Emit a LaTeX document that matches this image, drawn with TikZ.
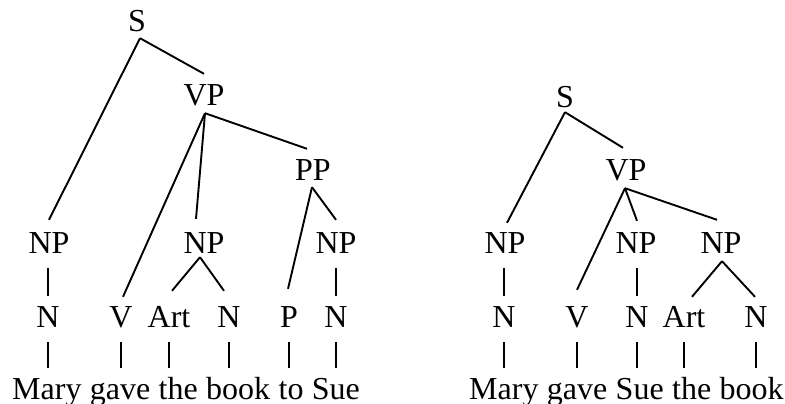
\documentclass[tikz,border=0pt]{standalone}
\usepackage{fontspec}
\setmainfont{Liberation Serif}
\begin{document}
\begin{tikzpicture}[x=1pt,y=-1pt,
  lbl/.style={font=\fontsize{32}{38}\selectfont, inner sep=0pt, anchor=base, text height=21pt, text depth=0pt},
  wrd/.style={lbl, anchor=base west},
  branch/.style={line width=1.9pt},
  bar/.style={line width=1.2pt}]
\useasboundingbox (0,0) rectangle (785,404);
% ---------- left tree ----------
\node[lbl] (S1) at (137,32) {S};
\node[lbl] (VP1) at (204,106) {VP};
\node[lbl] (PP1) at (313,180) {PP};
\node[lbl] (NPa) at (49,253) {NP};
\node[lbl] (NPb) at (204,253) {NP};
\node[lbl] (NPc) at (336,253) {NP};
\node[lbl] (Na) at (48,327) {N};
\node[lbl] (V1) at (121,327) {V};
\node[lbl] (Art1) at (169,327) {Art};
\node[lbl] (Nb) at (229,327) {N};
\node[lbl] (P1) at (289,327) {P};
\node[lbl] (Nc) at (336,327) {N};
\node[wrd] (w1) at (12,399) {Mary};
\node[wrd] (w2) at ([xshift=8pt]w1.base east) {gave};
\node[wrd] (w3) at ([xshift=8pt]w2.base east) {the};
\node[wrd] (w4) at ([xshift=8pt]w3.base east) {book};
\node[wrd] (w5) at ([xshift=8pt]w4.base east) {to};
\node[wrd] (w6) at ([xshift=8pt]w5.base east) {Sue};
\draw[branch] ([xshift=3pt,yshift=-6pt]S1.south) -- ([yshift=12pt]NPa.north);
\draw[branch] ([xshift=3pt,yshift=-6pt]S1.south) -- ([yshift=11pt]VP1.north);
\draw[branch] ([xshift=1pt,yshift=-7pt]VP1.south) -- ([xshift=2pt,yshift=9pt]V1.north);
\draw[branch] ([xshift=1pt,yshift=-7pt]VP1.south) -- ([xshift=-8pt,yshift=13pt]NPb.north);
\draw[branch] ([xshift=1pt,yshift=-7pt]VP1.south) -- ([xshift=-6pt,yshift=10pt]PP1.north);
\draw[branch] ([xshift=-1pt,yshift=-7pt]PP1.south) -- ([xshift=-1pt,yshift=17pt]P1.north);
\draw[branch] ([xshift=-1pt,yshift=-7pt]PP1.south) -- ([yshift=12pt]NPc.north);
\draw[branch] ([xshift=-4pt,yshift=-4pt]NPb.south) -- ([xshift=3pt,yshift=15pt]Art1.north);
\draw[branch] ([xshift=-4pt,yshift=-4pt]NPb.south) -- ([xshift=-5pt,yshift=15pt]Nb.north);
\foreach \a/\b in {NPa/Na, NPc/Nc}
  \draw[bar] ([yshift=-15pt]\a.south -| \b.south) -- ([yshift=10pt]\b.north);
\foreach \a/\b in {Na/w1, V1/w2, Art1/w3, Nb/w4, P1/w5, Nc/w6}
  \draw[bar] ([yshift=-15pt]\a.south) -- ([yshift=10pt]\a.south |- \b.north);
% ---------- right tree ----------
\node[lbl] (S2) at (565,107) {S};
\node[lbl] (VP2) at (626,180) {VP};
\node[lbl] (NPl) at (505,253) {NP};
\node[lbl] (NPm) at (636,253) {NP};
\node[lbl] (NPr) at (721,253) {NP};
\node[lbl] (N2a) at (504,327) {N};
\node[lbl] (V2) at (577,327) {V};
\node[lbl] (N2b) at (637,327) {N};
\node[lbl] (Art2) at (684,327) {Art};
\node[lbl] (N2c) at (756,327) {N};
\node[wrd] (u1) at (469,399) {Mary};
\node[wrd] (u2) at ([xshift=8pt]u1.base east) {gave};
\node[wrd] (u3) at ([xshift=8pt]u2.base east) {Sue};
\node[wrd] (u4) at ([xshift=8pt]u3.base east) {the};
\node[wrd] (u5) at ([xshift=8pt]u4.base east) {book};
\draw[branch] ([yshift=-5pt]S2.south) -- ([xshift=2pt,yshift=9pt]NPl.north);
\draw[branch] ([yshift=-5pt]S2.south) -- ([xshift=-3pt,yshift=11pt]VP2.north);
\draw[branch] ([xshift=-1pt,yshift=-8pt]VP2.south) -- ([yshift=16pt]V2.north);
\draw[branch] ([xshift=-1pt,yshift=-8pt]VP2.south) -- ([xshift=1pt,yshift=11pt]NPm.north);
\draw[branch] ([xshift=-1pt,yshift=-8pt]VP2.south) -- ([xshift=-4pt,yshift=12pt]NPr.north);
\draw[branch] ([xshift=1pt,yshift=-8pt]NPr.south) -- ([xshift=8pt,yshift=9pt]Art2.north);
\draw[branch] ([xshift=1pt,yshift=-8pt]NPr.south) -- ([xshift=-1pt,yshift=9pt]N2c.north);
\foreach \a/\b in {NPl/N2a, NPm/N2b}
  \draw[bar] ([yshift=-15pt]\a.south -| \b.south) -- ([yshift=10pt]\b.north);
\foreach \a/\b in {N2a/u1, V2/u2, N2b/u3, Art2/u4, N2c/u5}
  \draw[bar] ([yshift=-15pt]\a.south) -- ([yshift=10pt]\a.south |- \b.north);
\end{tikzpicture}
\end{document}
